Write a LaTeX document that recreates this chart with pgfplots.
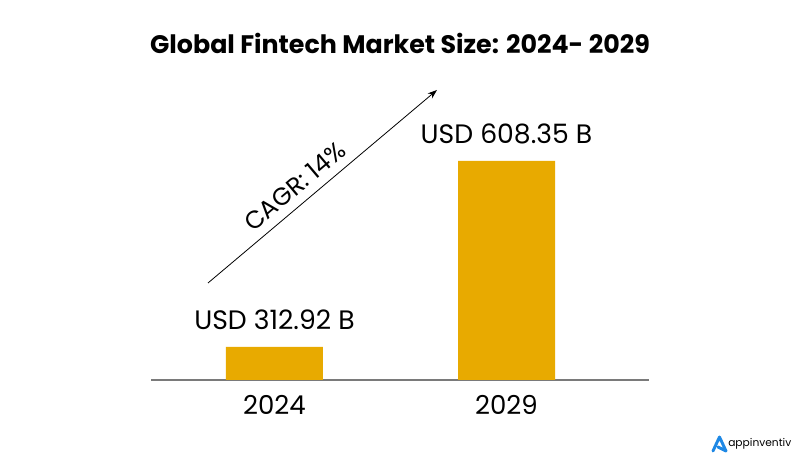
\documentclass[border=0pt]{standalone}
\usepackage{pgfplots}
\pgfplotsset{compat=1.18}
\usepackage{fontspec}
\setmainfont{Poppins}
\usetikzlibrary{arrows.meta}
\definecolor{gold}{HTML}{E8AA00}
\definecolor{axgray}{HTML}{7A7A7A}
\definecolor{logoblue}{HTML}{1E88E5}
\begin{document}
\begin{tikzpicture}[x=0.75pt,y=0.75pt]
\path[fill=white] (0,0) rectangle (801,466);
\begin{axis}[
  at={(113.25pt,64.5pt)}, anchor=south west,
  scale only axis, width=373.5pt, height=164.25pt,
  xmin=-0.532, xmax=1.614, ymin=260.5, ymax=608.35,
  axis x line=bottom, axis y line=none,
  axis line style={-, draw=axgray, line width=0.8pt},
  xtick={0,1}, xticklabels={2024,2029},
  major tick length=0pt,
  /pgf/number format/assume math mode=true,
  xticklabel style={font=\fontsize{19.5}{21}\selectfont, yshift=-8pt},
  ybar, bar width=72.75pt,
  clip=false,
  nodes near coords, point meta=explicit symbolic,
  every node near coord/.append style={font=\fontsize{20}{22}\selectfont, yshift=9.5pt, black},
]
\addplot[fill=gold, draw=none] coordinates {(0,312.92) [USD 312.92 B] (1,608.35) [USD 608.35 B]};
\end{axis}
\node[font=\bfseries\fontsize{19}{22}\selectfont] at (400,423) {Global Fintech Market Size: 2024- 2029};
\draw[line width=0.6pt, -{Stealth[length=7pt,width=5pt]}] (208,183) -- (437,376)
  node[pos=0.43, above=3pt, sloped, font=\fontsize{18.5}{20}\selectfont] {CAGR: 14\%};
\draw[logoblue, line width=2.2pt, line join=round, line cap=round] (713,15) -- (719.5,29) -- (726,15) -- (718,19);
\node[anchor=west, font=\fontsize{8}{9}\selectfont, inner sep=0pt] at (728,22) {appinventiv};
\end{tikzpicture}
\end{document}
